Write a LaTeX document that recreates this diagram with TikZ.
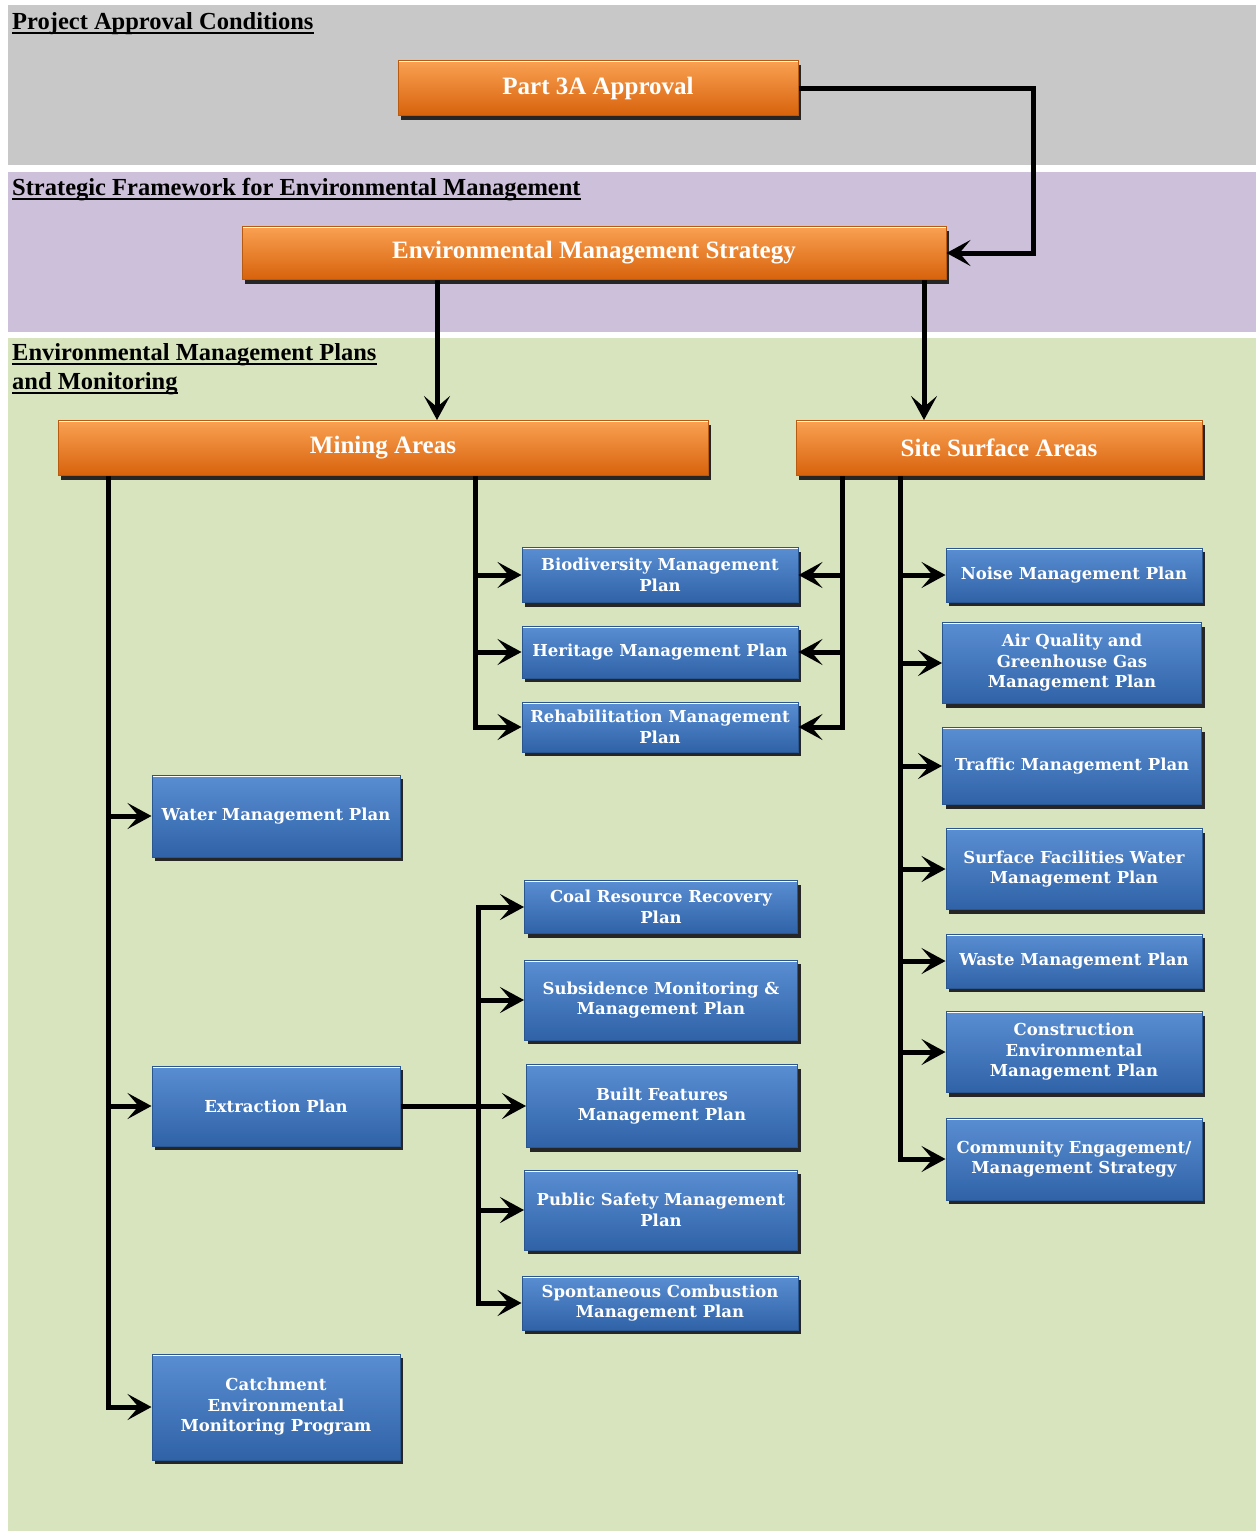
\documentclass[tikz,border=0pt]{standalone}
\usepackage{fontspec}
\setmainfont{DejaVu Serif}
\newfontfamily\headfont{Liberation Serif}
\usetikzlibrary{arrows.meta,shadows}
\definecolor{bandgrey}{HTML}{C8C8C8}
\definecolor{bandpurple}{HTML}{CCC0DA}
\definecolor{bandgreen}{HTML}{D7E4BD}
\definecolor{bluetop}{HTML}{5A8ED2}
\definecolor{bluemid}{HTML}{4A7EC4}
\definecolor{bluebot}{HTML}{2F62A6}
\definecolor{blueedge}{HTML}{2A5690}
\definecolor{orangetop}{HTML}{F9A152}
\definecolor{orangemid}{HTML}{F07C1C}
\definecolor{orangebot}{HTML}{D8620C}
\definecolor{orangeedge}{HTML}{B85A10}
\begin{document}
\begin{tikzpicture}[x=1pt,y=-1pt,
  boxbase/.style={rectangle, inner sep=2pt, align=center, text=white,
    drop shadow={shadow xshift=3pt, shadow yshift=-4pt, fill=black!85, opacity=1},
    path picture={\draw[white, line width=3pt] (path picture bounding box.north west) -- (path picture bounding box.north east);}},
  orangebox/.style={boxbase, draw=orangeedge, line width=1pt,
    top color=orangetop, middle color=orangemid, bottom color=orangebot,
    font=\headfont\bfseries\fontsize{25}{29}\selectfont},
  bluebox/.style={boxbase, draw=blueedge, line width=1pt,
    top color=bluetop, middle color=bluemid, bottom color=bluebot,
    font=\bfseries\fontsize{16.5}{20.5}\selectfont},
  heading/.style={anchor=base west, inner sep=0pt, font=\headfont\bfseries\fontsize{24.5}{28}\selectfont},
  conn/.style={line width=5pt, -{Stealth[length=24pt, width=26pt, inset=11pt]}},
  uline/.style={line width=1.8pt}
]
\useasboundingbox (0,0) rectangle (1256,1531);
\fill[white] (0,0) rectangle (1256,1531);
% bands
\fill[bandgrey] (8,5) rectangle (1256,165);
\fill[bandpurple] (8,172) rectangle (1256,332);
\fill[bandgreen] (8,338) rectangle (1256,1531);

% headings
\node[heading] (h1) at (12,29) {Project Approval Conditions};
\draw[uline] ([yshift=-4pt]h1.base west) -- ([yshift=-4pt]h1.base east);
\node[heading] (h2) at (12,195) {Strategic Framework for Environmental Management};
\draw[uline] ([yshift=-4pt]h2.base west) -- ([yshift=-4pt]h2.base east);
\node[heading] (h3) at (12,360) {Environmental Management Plans\ };
\draw[uline] ([yshift=-4pt]h3.base west) -- ([yshift=-4pt]h3.base east);
\node[heading] (h4) at (12,389) {and Monitoring};
\draw[uline] ([yshift=-4pt]h4.base west) -- ([yshift=-4pt]h4.base east);

% orange boxes
\node[orangebox, minimum width=400pt, minimum height=55pt] (p3a) at (598,88) {Part 3A Approval};
\node[orangebox, minimum width=704pt, minimum height=53pt] (ems) at (594,253) {Environmental Management Strategy};
\node[orangebox, minimum width=650pt, minimum height=55pt] (mining) at (383,448) {Mining Areas};
\node[orangebox, minimum width=406pt, minimum height=55pt] (site) at (999,448) {Site Surface Areas};

% blue boxes (middle column, top)
\node[bluebox, minimum width=276pt, minimum height=55pt] (bio) at (660,575) {Biodiversity Management\\Plan};
\node[bluebox, minimum width=276pt, minimum height=52pt] (herit) at (660,652) {Heritage Management Plan};
\node[bluebox, minimum width=276pt, minimum height=50pt] (rehab) at (660,727) {Rehabilitation Management\\Plan};
% left column
\node[bluebox, minimum width=248pt, minimum height=82pt] (water) at (276,816) {Water Management Plan};
\node[bluebox, minimum width=248pt, minimum height=80pt] (extr) at (276,1106) {Extraction Plan};
\node[bluebox, minimum width=248pt, minimum height=106pt] (catch) at (276,1407) {Catchment\\Environmental\\Monitoring Program};
% middle column, extraction
\node[bluebox, minimum width=273pt, minimum height=53pt] (coal) at (661,907) {Coal Resource Recovery\\Plan};
\node[bluebox, minimum width=273pt, minimum height=80pt] (subs) at (661,1000) {Subsidence Monitoring \&\\Management Plan};
\node[bluebox, minimum width=271pt, minimum height=83pt] (built) at (662,1106) {Built Features\\Management Plan};
\node[bluebox, minimum width=273pt, minimum height=80pt] (pubs) at (661,1210) {Public Safety Management\\Plan};
\node[bluebox, minimum width=276pt, minimum height=54pt] (spont) at (660,1303) {Spontaneous Combustion\\Management Plan};
% right column
\node[bluebox, minimum width=256pt, minimum height=54pt] (noise) at (1074,575) {Noise Management Plan};
\node[bluebox, minimum width=259pt, minimum height=81pt] (air) at (1072,663) {Air Quality and\\Greenhouse Gas\\Management Plan};
\node[bluebox, minimum width=259pt, minimum height=77pt] (traffic) at (1072,766) {Traffic Management Plan};
\node[bluebox, minimum width=256pt, minimum height=81pt] (surf) at (1074,869) {Surface Facilities Water\\Management Plan};
\node[bluebox, minimum width=256pt, minimum height=54pt] (waste) at (1074,961) {Waste Management Plan};
\node[bluebox, minimum width=256pt, minimum height=81pt] (constr) at (1074,1052) {Construction\\Environmental\\Management Plan};
\node[bluebox, minimum width=256pt, minimum height=82pt] (comm) at (1074,1159) {Community Engagement/\\Management Strategy};

% column coordinates
\coordinate (cA) at (108,0);
\coordinate (cB) at (475,0);
\coordinate (cC) at (842,0);
\coordinate (cD) at (900,0);
\coordinate (cE) at (478,0);
\coordinate (c1) at (437,0);
\coordinate (c2) at (924,0);

% top connectors
\draw[conn] (p3a.east) -- ++(235,0) |- (ems.east);
\draw[conn] (ems.south -| c1) -- (mining.north -| c1);
\draw[conn] (ems.south -| c2) -- (site.north -| c2);

% mining areas trunks
\draw[conn] (mining.south -| cA) |- (catch.west);
\draw[conn] (water.west -| cA) -- (water.west);
\draw[conn] (extr.west -| cA) -- (extr.west);
\draw[conn] (mining.south -| cB) |- (rehab.west);
\draw[conn] (bio.west -| cB) -- (bio.west);
\draw[conn] (herit.west -| cB) -- (herit.west);

% site surface trunks
\draw[conn] (site.south -| cC) |- (rehab.east);
\draw[conn] (bio.east -| cC) -- (bio.east);
\draw[conn] (herit.east -| cC) -- (herit.east);
\draw[conn] (site.south -| cD) |- (comm.west);
\draw[conn] (noise.west -| cD) -- (noise.west);
\draw[conn] (air.west -| cD) -- (air.west);
\draw[conn] (traffic.west -| cD) -- (traffic.west);
\draw[conn] (surf.west -| cD) -- (surf.west);
\draw[conn] (waste.west -| cD) -- (waste.west);
\draw[conn] (constr.west -| cD) -- (constr.west);

% extraction branches
\draw[conn] (extr.east) -- (built.west);
\draw[conn] (extr.east -| cE) |- (coal.west);
\draw[conn] (extr.east -| cE) |- (spont.west);
\draw[conn] (subs.west -| cE) -- (subs.west);
\draw[conn] (pubs.west -| cE) -- (pubs.west);
\end{tikzpicture}
\end{document}
